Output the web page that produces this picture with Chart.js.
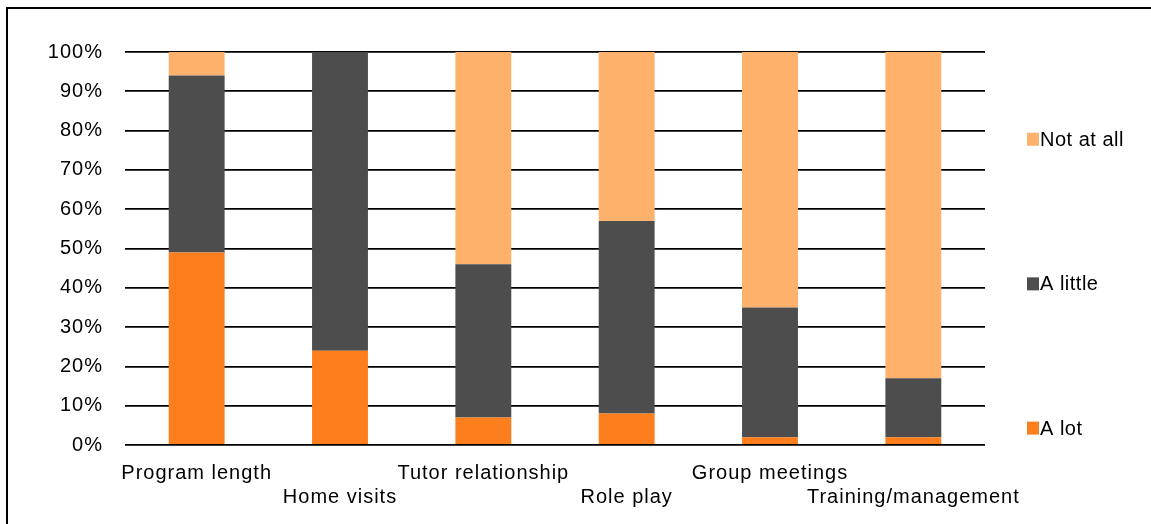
<!DOCTYPE html>
<html>
<head>
<meta charset="utf-8">
<script src="https://cdn.jsdelivr.net/npm/chart.js@4"></script>
<style>
  html, body { margin: 0; padding: 0; background: #fff; }
  #wrap { position: relative; width: 1151px; height: 524px; overflow: hidden; }
  #frame { position: absolute; left: 6px; top: 7px; width: 1160px; height: 530px;
           border-top: 2px solid #000; border-left: 2px solid #000; pointer-events: none; }
  canvas { position: absolute; left: 0; top: 0; }
</style>
</head>
<body>
<div id="wrap">
  <canvas id="c" width="1151" height="524"></canvas>
  <div id="frame"></div>
</div>
<script>
const categories = ["Program length", "Home visits", "Tutor relationship", "Role play", "Group meetings", "Training/management"];
const aLot      = [49, 24, 7, 8, 2, 2];
const aLittle   = [45, 76, 39, 49, 33, 15];
const notAtAll  = [6, 0, 54, 43, 65, 83];
const yTicks    = [0, 10, 20, 30, 40, 50, 60, 70, 80, 90, 100];

const FONT = "'Liberation Sans', Arial, sans-serif";

const spacing = {
  id: 'spacing',
  beforeInit(chart) { chart.ctx.letterSpacing = '1px'; },
  beforeDraw(chart) { chart.ctx.letterSpacing = '1px'; }
};

const sideLegend = {
  id: 'sideLegend',
  afterDraw(chart) {
    const ctx = chart.ctx;
    const area = chart.chartArea;
    const items = chart.data.datasets.slice().reverse();
    const fr = [0.222, 0.59, 0.957];
    ctx.save();
    ctx.letterSpacing = '0.5px';
    ctx.font = "20px " + FONT;
    ctx.textBaseline = 'middle';
    ctx.textAlign = 'left';
    items.forEach((ds, i) => {
      const y = area.top + area.height * fr[i];
      const x = 1027;
      ctx.fillStyle = ds.backgroundColor;
      ctx.fillRect(x, y - 6.5, 12, 13);
      ctx.fillStyle = '#000';
      ctx.fillText(ds.label, x + 13, y + 1);
    });
    ctx.restore();
  }
};

new Chart(document.getElementById('c'), {
  type: 'bar',
  data: {
    labels: categories,
    datasets: [
      { label: 'A lot', data: aLot, backgroundColor: '#FC7E1C' },
      { label: 'A little', data: aLittle, backgroundColor: '#4D4D4D' },
      { label: 'Not at all', data: notAtAll, backgroundColor: '#FDB16A' }
    ]
  },
  options: {
    responsive: false,
    animation: false,
    devicePixelRatio: 1,
    layout: { padding: { left: 0, right: 166, top: 52, bottom: 0 } },
    datasets: { bar: { categoryPercentage: 1, barPercentage: 0.39 } },
    plugins: { legend: { display: false }, tooltip: { enabled: false } },
    scales: {
      x: {
        stacked: true,
        grid: { display: false },
        border: { display: false },
        afterFit(s) { s.height = 79; },
        ticks: {
          autoSkip: false, maxRotation: 0, minRotation: 0, padding: 8,
          color: '#000', font: { family: FONT, size: 20 },
          callback(v, i) { const l = this.getLabelForValue(v); return i % 2 ? ['', l] : l; }
        }
      },
      y: {
        stacked: true,
        min: 0, max: 100,
        afterBuildTicks(s) { s.ticks = yTicks.map(v => ({ value: v })); },
        afterFit(s) { s.width = 125; },
        grid: { color: '#000', lineWidth: 1.8, drawTicks: false },
        border: { display: false },
        ticks: {
          padding: 22, color: '#000', font: { family: FONT, size: 20 },
          callback(v) { return v + '%'; }
        }
      }
    }
  },
  plugins: [spacing, sideLegend]
});
</script>
</body>
</html>
